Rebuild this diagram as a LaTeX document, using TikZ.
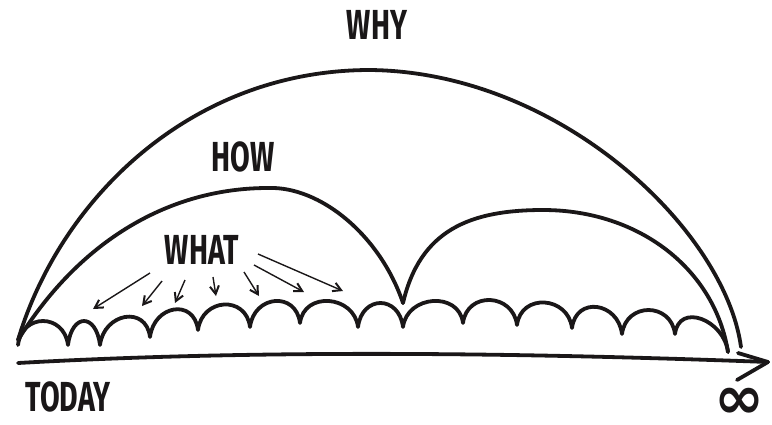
\documentclass[tikz,border=0pt]{standalone}
\usepackage{fontspec}
\newfontfamily\sketchfont[FakeStretch=0.68]{Fira Sans}
\newfontfamily\symfont{DejaVu Sans}
\usetikzlibrary{arrows.meta,calc}
\definecolor{ink}{HTML}{1A1718}

\tikzset{
  wordlabel/.style={font=\sketchfont\bfseries\fontsize{42}{42}\selectfont, text=ink, inner sep=0pt},
  pen/.style={line width=3.8pt, line cap=round, line join=round, draw=ink},
  whatarrow/.style={line width=1.4pt, draw=ink, -{Straight Barb[length=8pt,width=9pt,line width=2pt]}},
}

\begin{document}
\begin{tikzpicture}[x=1pt,y=-1pt]
\useasboundingbox (0,0) rectangle (772,424);

% Labels
\node[wordlabel] (why) at (377,25) {WHY};
\node[wordlabel] (how) at (243,157) {HOW};
\node[wordlabel] (what) at (202,250) {WHAT};
\node[wordlabel] (today) at (68,397) {TODAY};
\node[text=ink, inner sep=0pt, font=\symfont\bfseries\fontsize{60}{60}\selectfont] (inf) at (739,403) {∞};

% End points of the arcs
\coordinate (start) at (18,340);
\coordinate (mid) at (403,303);
\coordinate (end) at (741,347);
\coordinate (endhow) at (728,352);

% Why arc
\draw[pen] (start) .. controls (60,200) and (190,70) .. (370,70)
  .. controls (560,72) and (725,230) .. (end);

% How arcs
\draw[pen] (start) .. controls (80,240) and (170,188) .. (268,188)
  .. controls (320,186) and (380,235) .. (mid);
\draw[pen] (mid) .. controls (420,230) and (470,210) .. (543,210)
  .. controls (640,210) and (715,270) .. (endhow);

% What humps
\draw[pen] (18,345) \foreach \x/\y in {68/345,100/345,150/337,198/330,250/327,300/323,358/327,403/327,463/323,517/325,572/328,622/334,675/334,728/352}
  { .. controls +(4,-32) and +(-4,-32) .. (\x,\y) };

% What arrows
\foreach \i/\sx/\sy/\ex/\ey in {1/150/273/93/309, 2/162/281/142/306, 3/185/280/175/303, 4/213/277/216/296, 5/244/272/259/296, 6/254/265/304/292, 7/258/254/343/291}
{
  \coordinate (a\i) at (\sx,\sy);
  \coordinate (b\i) at (\ex,\ey);
  \draw[whatarrow] (a\i) -- (b\i);
}

% Time line
\coordinate (t0) at (18,363);
\coordinate (tip) at (768,362);
\draw[pen] (t0) .. controls (250,350) and (500,352) .. (tip);
\draw[pen] (tip) -- ++(-30,-9);
\draw[pen] (tip) -- ++(-31,18);
\end{tikzpicture}
\end{document}
